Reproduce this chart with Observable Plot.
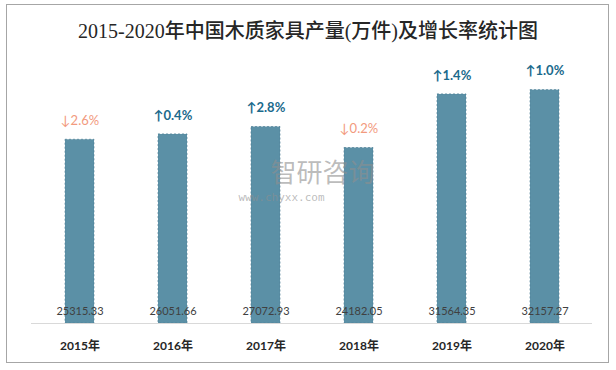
<!DOCTYPE html>
<html><head><meta charset="utf-8">
<script src="https://cdn.jsdelivr.net/npm/d3@7"></script>
<script src="https://cdn.jsdelivr.net/npm/@observablehq/plot@0.6"></script>
<style>
body{margin:0;background:#fff;}
#wrap{position:relative;width:616px;height:370px;overflow:hidden;background:#fff;}
#border{position:absolute;left:6px;top:4px;width:603px;height:359px;border:1px solid #a6a6a6;box-sizing:border-box;}
#title{position:absolute;left:0;top:15px;width:616px;text-align:center;font-family:"Liberation Serif","Noto Sans CJK SC",serif;font-size:20px;font-weight:500;color:#262626;}
#chart{position:absolute;left:0;top:0;}
</style></head>
<body><div id="wrap"><div id="border"></div><div id="title">2015-2020年中国木质家具产量(万件)及增长率统计图</div><div id="chart"></div></div>
<script>
const years = ["2015年","2016年","2017年","2018年","2019年","2020年"];
const output = [25315.33, 26051.66, 27072.93, 24182.05, 31564.35, 32157.27];
const growthText = ["↓2.6%","↑0.4%","↑2.8%","↓0.2%","↑1.4%","↑1.0%"];
const growthUp = [false, true, true, false, true, true];

const data = years.map((y,i)=>({year:y, value:output[i], label:output[i].toFixed(2), g:growthText[i], up:growthUp[i]}));
const font = "Lato, 'Noto Sans CJK SC', sans-serif";

const chart = Plot.plot({
  width:616, height:370,
  marginLeft:31, marginRight:24, marginTop:69, marginBottom:47,
  style:{fontFamily:font, background:"transparent"},
  x:{domain:years, paddingInner:0.69, paddingOuter:0.345, label:null},
  y:{domain:[0,35000], axis:null},
  marks:[
    Plot.barY(data, {x:"year", y:"value", fill:"#5b90a6", stroke:"#4d7f95", strokeWidth:0.7, strokeDasharray:"2,2"}),
    Plot.text(["智研咨询"], {frameAnchor:"top-left", dx:239, dy:94, text:d=>d, fontSize:26, fill:"#8f8f8f", fillOpacity:0.6, textAnchor:"start", fontFamily:"'Noto Sans CJK SC'"}),
    Plot.text(["www.chyxx.com"], {frameAnchor:"top-left", dx:207, dy:124, text:d=>d, fontSize:11, fill:"#8f8f8f", fillOpacity:0.6, textAnchor:"start", letterSpacing:"4px", fontFamily:"'DejaVu Sans Mono'"}),
    Plot.ruleY([0], {stroke:"#d9d9d9", strokeWidth:1.2}),
    Plot.text(data, {x:"year", y:0, dy:-12, text:"label", fontSize:11, fill:"#404040"}),
    Plot.text(data.filter(d=>d.up), {x:"year", y:"value", dy:-19, text:"g", fontSize:13, fontWeight:"bold", fill:"#1b6a8c"}),
    Plot.text(data.filter(d=>!d.up), {x:"year", y:"value", dy:-19, text:"g", fontSize:13, fill:"#f29a7e"}),
    Plot.axisX({tickSize:0, tickPadding:18, fontSize:12, fontWeight:"bold", fill:"#262626", label:null})
  ]
});
document.getElementById("chart").appendChild(chart);
</script></body></html>
